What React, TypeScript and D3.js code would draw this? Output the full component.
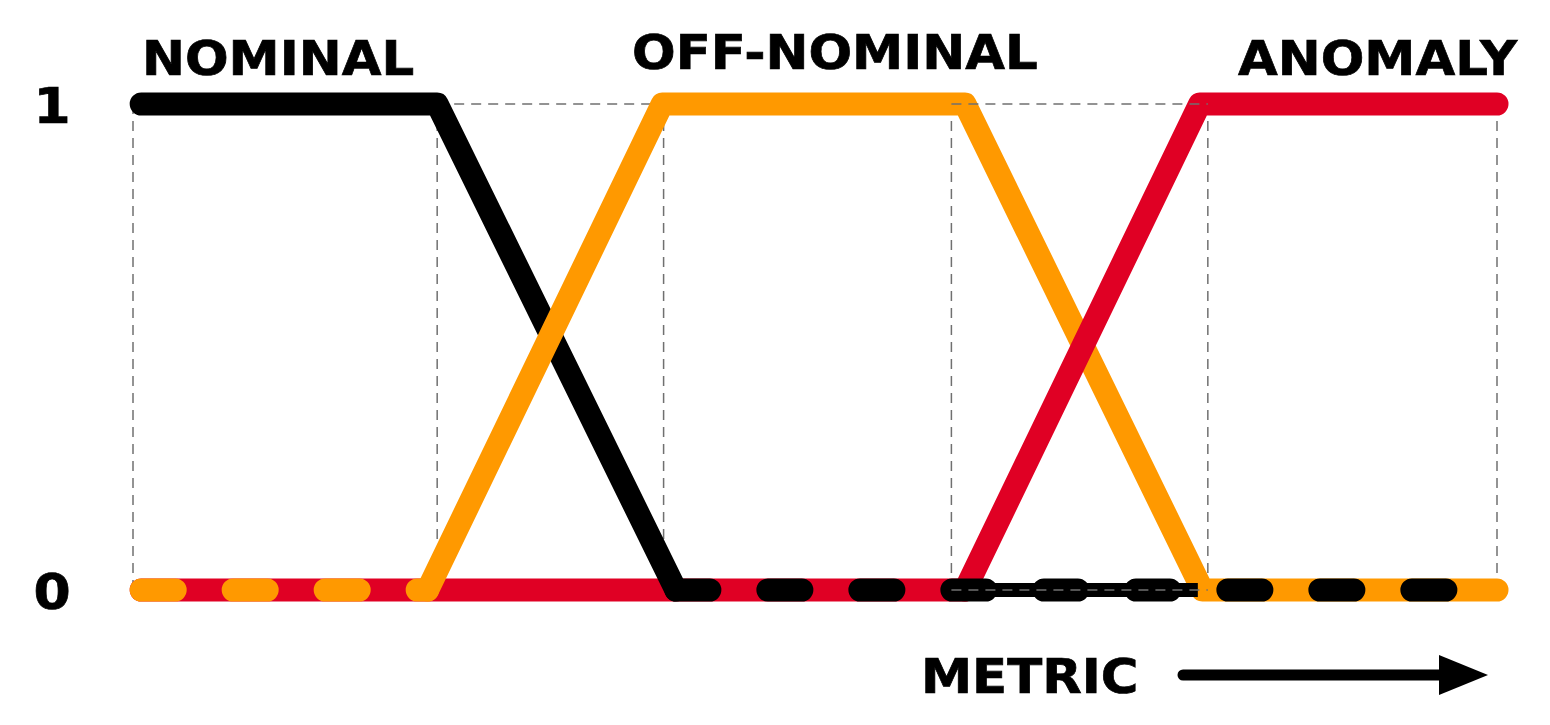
import * as d3 from 'd3'

// membership functions, x in metric units (0-100), y in membership (0-1)
const nominal: [number, number][] = [[0.6, 1], [22.3, 1], [39.8, 0], [100, 0]]
const offNominal: [number, number][] = [[0.6, 0], [21.6, 0], [38.8, 1], [61, 1], [78.4, 0], [100, 0]]
const anomaly: [number, number][] = [[0.6, 0], [61, 0], [78.2, 1], [100, 1]]

const categories = ['NOMINAL', 'OFF-NOMINAL', 'ANOMALY']
const yTicks = [0, 1]
const gridX = [0, 22.3, 38.9, 60, 78.8, 100]
const gridBoxes: [number, number][] = [[22.3, 38.9], [60, 78.8]]
const axisLabel = 'METRIC'

const WIDTH = 1550
const HEIGHT = 725
const FONT = '"DejaVu Sans", Verdana, sans-serif'

const BLACK = '#000000'
const ORANGE = '#ff9900'
const RED = '#e00024'
const GRID = '#707070'

// label placement: [x start, baseline]
const labelPos: [number, number][] = [[142, 75], [632, 69], [1238, 75]]
const TEXT_STRETCH = 1.07

const App = () => {
    const x = d3.scaleLinear().domain([0, 100]).range([133, 1497])
    const y = d3.scaleLinear().domain([0, 1]).range([590, 104])

    const line = d3.line<[number, number]>()
        .x(d => x(d[0]))
        .y(d => y(d[1]))

    const solid = {fill: 'none', strokeWidth: 23, strokeLinecap: 'round' as const, strokeLinejoin: 'round' as const}
    const dashed = {...solid, strokeDasharray: '34 58'}
    const grid = {stroke: GRID, strokeWidth: 1.5, strokeDasharray: '10 7', fill: 'none'}
    const bold = {fontWeight: 'bold', fill: BLACK, stroke: BLACK, strokeWidth: 0.7}

    const boxLines = (b: [number, number], i: number) => (
        <g key={'box' + i}>
            {yTicks.map(t => (
                <line key={t} x1={x(b[0])} x2={x(b[1])} y1={y(t)} y2={y(t)} {...grid} />
            ))}
        </g>
    )

    const box2 = gridBoxes[1]

    return (
        <svg width={WIDTH} height={HEIGHT} style={{position: 'absolute', left: 0, top: 0, background: '#fff'}}
             fontFamily={FONT}>
            {/* grid */}
            {gridX.map(g => (
                <line key={'gx' + g} x1={x(g)} x2={x(g)} y1={y(1)} y2={y(0)} {...grid} />
            ))}
            {boxLines(gridBoxes[0], 0)}

            {/* zero part of anomaly sits underneath */}
            <path d={line(anomaly.slice(0, 2)) ?? ''} stroke={RED} {...solid} />
            <path d={line(nominal.slice(0, 3)) ?? ''} stroke={BLACK} {...solid} />
            <path d={line(offNominal.slice(1)) ?? ''} stroke={ORANGE} {...solid} />
            <path d={line(anomaly.slice(1)) ?? ''} stroke={RED} {...solid} />

            {/* thin black band under the second box */}
            <line x1={x(box2[0]) + 10} x2={x(box2[1]) - 10} y1={y(0)} y2={y(0)} stroke={BLACK} strokeWidth={14} />

            {/* dashed zero segments on top */}
            <path d={line(offNominal.slice(0, 2)) ?? ''} stroke={ORANGE} {...dashed} />
            <path d={line(nominal.slice(2)) ?? ''} stroke={BLACK} {...dashed} />

            {boxLines(box2, 1)}

            {/* y tick labels */}
            {yTicks.map(t => (
                <text key={'t' + t} transform={`translate(52,${y(t) + 19}) scale(${TEXT_STRETCH},1)`}
                      textAnchor="middle" fontSize={50} {...bold}>{t}</text>
            ))}

            {/* category labels */}
            {categories.map((c, i) => (
                <text key={c} transform={`translate(${labelPos[i][0]},${labelPos[i][1]}) scale(${TEXT_STRETCH},1)`}
                      fontSize={48} {...bold}>{c}</text>
            ))}

            {/* metric axis label + arrow */}
            <text transform={`translate(921,693) scale(${TEXT_STRETCH},1)`} fontSize={48} {...bold}>{axisLabel}</text>
            <line x1={1183} x2={1445} y1={675} y2={675} stroke={BLACK} strokeWidth={11} strokeLinecap="round" />
            <path d="M1439,655 L1488,675 L1439,695 Z" fill={BLACK} />
        </svg>
    )
}

export default App
